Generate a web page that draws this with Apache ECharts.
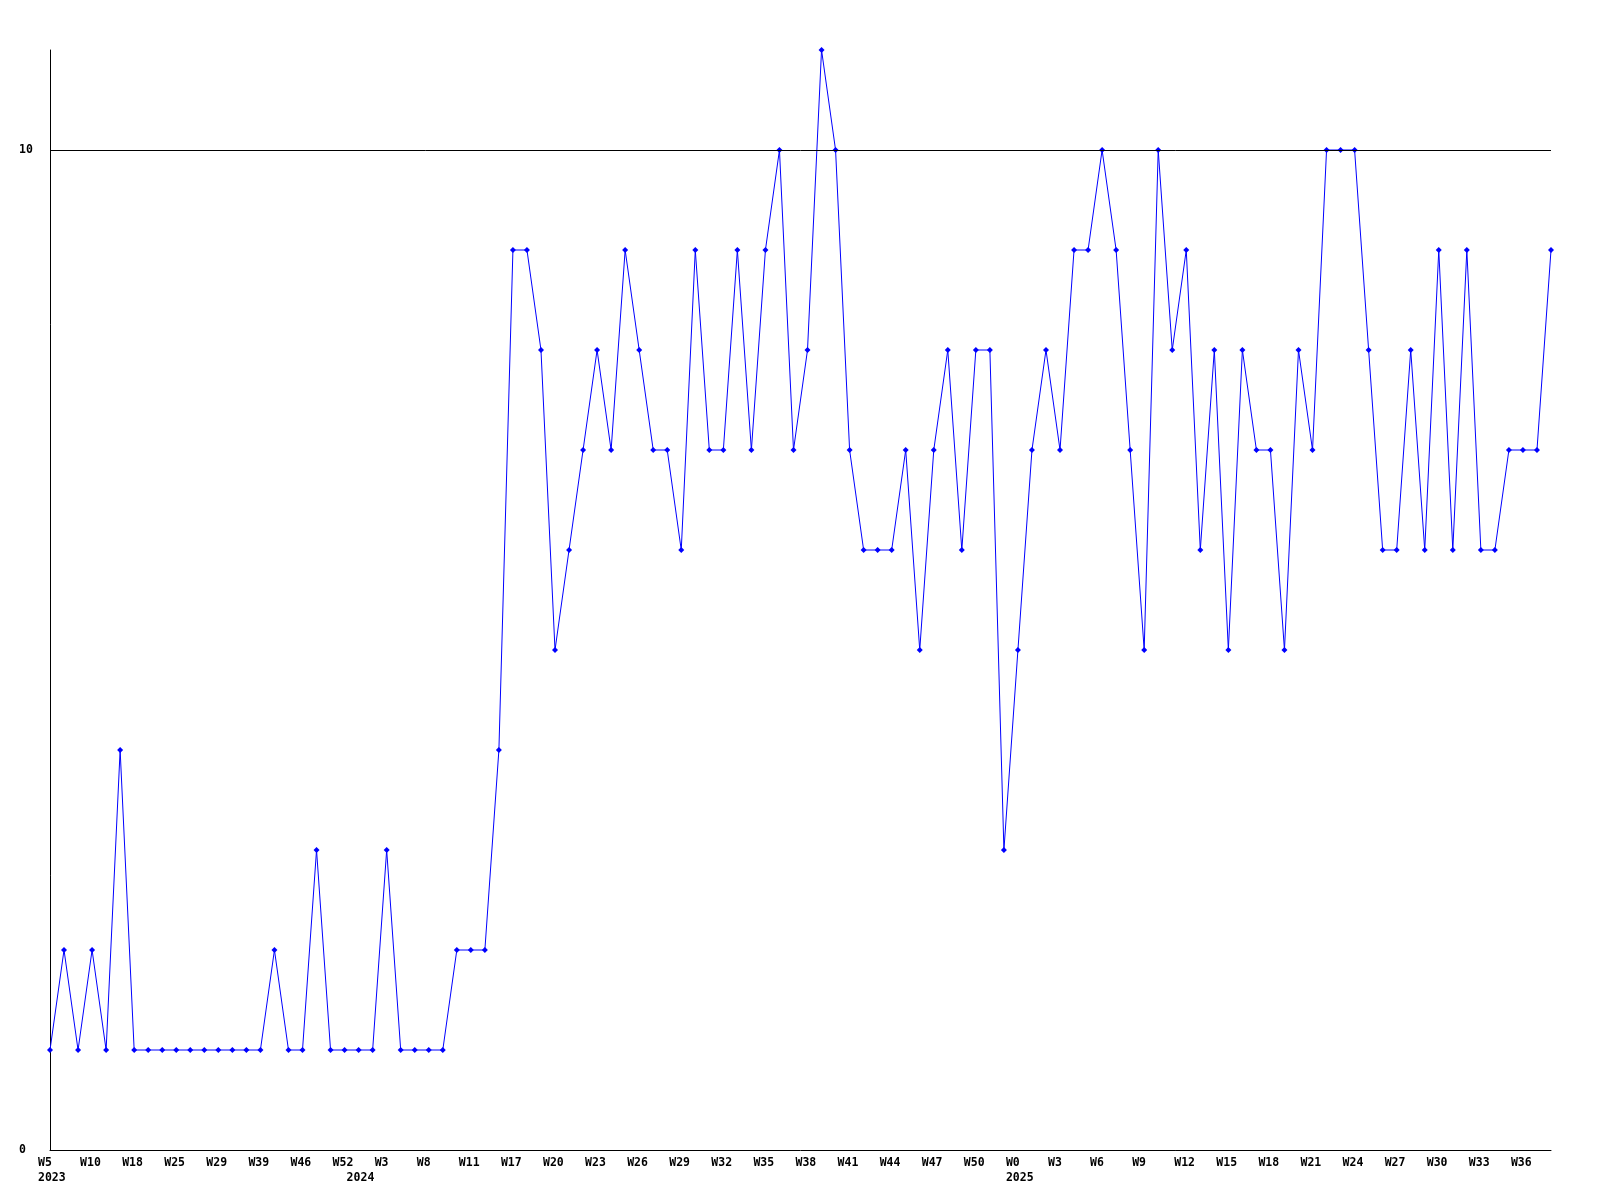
<!DOCTYPE html>
<html>
<head>
<meta charset="utf-8">
<style>
  html, body { margin: 0; padding: 0; background: #ffffff; }
  #chart { width: 1600px; height: 1200px; }
</style>
<script src="https://cdn.jsdelivr.net/npm/echarts@6/dist/echarts.min.js"></script>
</head>
<body>
<div id="chart"></div>
<script>
// Week categories (year-week)
const weeks = [
  '2023-W5','2023-W7','2023-W8','2023-W10','2023-W12','2023-W15','2023-W18','2023-W20','2023-W22',
  '2023-W25','2023-W26','2023-W27','2023-W29','2023-W32','2023-W36','2023-W39','2023-W41','2023-W44',
  '2023-W46','2023-W48','2023-W50','2023-W52','2024-W1','2024-W2','2024-W3','2024-W5','2024-W6',
  '2024-W8','2024-W9','2024-W10','2024-W11','2024-W13','2024-W15','2024-W17','2024-W18','2024-W19',
  '2024-W20','2024-W21','2024-W22','2024-W23','2024-W24','2024-W25','2024-W26','2024-W27','2024-W28',
  '2024-W29','2024-W30','2024-W31','2024-W32','2024-W33','2024-W34','2024-W35','2024-W36','2024-W37',
  '2024-W38','2024-W39','2024-W40','2024-W41','2024-W42','2024-W43','2024-W44','2024-W45','2024-W46',
  '2024-W47','2024-W48','2024-W49','2024-W50','2024-W51','2024-W52','2025-W0','2025-W1','2025-W2',
  '2025-W3','2025-W4','2025-W5','2025-W6','2025-W7','2025-W8','2025-W9','2025-W10','2025-W11',
  '2025-W12','2025-W13','2025-W14','2025-W15','2025-W16','2025-W17','2025-W18','2025-W19','2025-W20',
  '2025-W21','2025-W22','2025-W23','2025-W24','2025-W25','2025-W26','2025-W27','2025-W28','2025-W29',
  '2025-W30','2025-W31','2025-W32','2025-W33','2025-W34','2025-W35','2025-W36','2025-W37','2025-W38'
];

// Weekly counts
const counts = [
  1, 2, 1, 2, 1, 4, 1, 1, 1,
  1, 1, 1, 1, 1, 1, 1, 2, 1,
  1, 3, 1, 1, 1, 1, 3, 1, 1,
  1, 1, 2, 2, 2, 4, 9, 9, 8,
  5, 6, 7, 8, 7, 9, 8, 7, 7,
  6, 9, 7, 7, 9, 7, 9, 10, 7,
  8, 11, 10, 7, 6, 6, 6, 7, 5,
  7, 8, 6, 8, 8, 3, 5, 7, 8,
  7, 9, 9, 10, 9, 7, 5, 10, 8,
  9, 6, 8, 5, 8, 7, 7, 5, 8,
  7, 10, 10, 10, 8, 6, 6, 8, 6,
  9, 6, 9, 6, 6, 7, 7, 7, 9
];

// Y axis range / tick step, and horizontal reference lines
const yMin = 0;
const yMax = 11;
const yStep = 10;
const gridLines = [10];

const labelEvery = 3;

const yearOf = s => s.split('-')[0];
const weekOf = s => s.split('-')[1];
const isYearStart = i => i === 0 || yearOf(weeks[i]) !== yearOf(weeks[i - 1]);

const labelFont = { fontFamily: 'DejaVu Sans Mono', fontWeight: 'bold', fontSize: 11.5, color: '#000' };
const rich = { w: Object.assign({ width: 12, align: 'left' }, labelFont) };

const chart = echarts.init(document.getElementById('chart'), null, { renderer: 'canvas' });
chart.setOption({
  animation: false,
  backgroundColor: '#ffffff',
  grid: { left: 50, right: 49, top: 50, bottom: 50, containLabel: false },
  xAxis: [{
    type: 'category',
    data: weeks,
    boundaryGap: false,
    axisLine: { show: true, lineStyle: { color: '#000', width: 1 } },
    axisTick: { show: false },
    splitLine: { show: false },
    axisLabel: {
      interval: labelEvery - 1,
      align: 'right',
      margin: 7,
      verticalAlign: 'top',
      rich: rich,
      formatter: v => '{w|' + weekOf(v) + '}'
    }
  }, {
    type: 'category',
    data: weeks,
    position: 'bottom',
    boundaryGap: false,
    axisLine: { show: false },
    axisTick: { show: false },
    splitLine: { show: false },
    axisLabel: {
      interval: (i) => isYearStart(i),
      align: 'right',
      margin: 22,
      verticalAlign: 'top',
      rich: rich,
      formatter: v => '{w|' + yearOf(v) + '}'
    }
  }],
  yAxis: {
    type: 'value',
    min: yMin,
    max: yMax,
    interval: yStep,
    axisLine: { show: true, lineStyle: { color: '#000', width: 1 } },
    axisTick: { show: false },
    splitLine: { show: false },
    axisLabel: Object.assign({
      align: 'left',
      margin: 31,
      showMaxLabel: false,
      padding: [2, 0, 0, 0]
    }, labelFont)
  },
  series: [{
    type: 'line',
    data: counts,
    xAxisIndex: 0,
    symbol: 'diamond',
    symbolSize: 6,
    showAllSymbol: true,
    lineStyle: { color: '#0000ff', width: 1 },
    itemStyle: { color: '#0000ff' },
    emphasis: { disabled: true },
    markLine: {
      silent: true,
      symbol: 'none',
      label: { show: false },
      lineStyle: { color: '#000', width: 1, type: 'solid' },
      emphasis: { disabled: true },
      data: gridLines.map(v => ({ yAxis: v }))
    }
  }]
});
</script>
</body>
</html>
